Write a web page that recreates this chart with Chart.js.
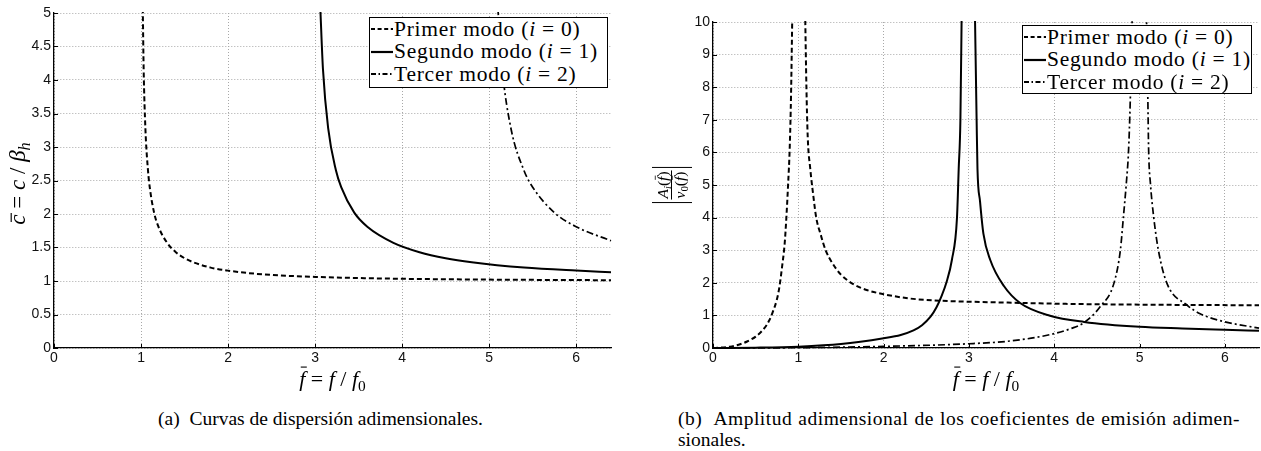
<!DOCTYPE html>
<html>
<head>
<meta charset="utf-8">
<script src="https://cdn.jsdelivr.net/npm/chart.js@4.4.1/dist/chart.umd.min.js"></script>
<style>
body { margin: 0; background: #fff; width: 1261px; height: 451px; position: relative; overflow: hidden; }
.panel { position: absolute; top: 0; }
.legend { position: absolute; background: #fff; border: 1.3px solid #000; box-sizing: border-box;
          font-family: "Liberation Serif", serif; font-size: 21.5px; letter-spacing: 0.75px; color: #000; padding: 0 1px; }
.legend .row { height: 22.5px; display: flex; align-items: center; white-space: nowrap; }
.legend svg { width: 22px; height: 10px; flex: none; margin-right: 1px; }
.caption { position: absolute; font-family: "Liberation Serif", serif; font-size: 19.5px; color: #000; white-space: nowrap; }
</style>
</head>
<body>
<div class="panel" style="left:0;width:625px;height:400px"><canvas id="dispChart" width="625" height="400"></canvas></div>
<div class="panel" style="left:630px;width:631px;height:400px"><canvas id="ampChart" width="631" height="400"></canvas></div>
<div class="legend" id="legendA" style="left:369px;top:17px;width:239px;height:71px"></div>
<div class="legend" id="legendB" style="left:1022px;top:25px;width:230px;height:69px"></div>
<div class="caption" style="left:158px;top:408px">(a)&nbsp; Curvas de dispersión adimensionales.</div>
<div class="caption" style="left:678px;top:408px;width:562px;letter-spacing:0.5px;text-align:justify;text-align-last:justify">(b)&nbsp; Amplitud adimensional de los coeficientes de emisión adimen-</div>
<div class="caption" style="left:678px;top:429px">sionales.</div>
<script>
// Series names and tick labels
const seriesNames = ['Primer modo', 'Segundo modo', 'Tercer modo'];
const modeIndex = [0, 1, 2];
const fTicks = [0, 1, 2, 3, 4, 5, 6];
const cTicks = [0, 0.5, 1, 1.5, 2, 2.5, 3, 3.5, 4, 4.5, 5];
const ampTicks = [0, 1, 2, 3, 4, 5, 6, 7, 8, 9, 10];

// (a) dispersion curves, c/beta_h vs f/f0
const dispPrimerF = [1.02, 1.03, 1.05, 1.08, 1.1, 1.15, 1.2, 1.3, 1.4, 1.5, 1.6, 1.8, 2.0, 2.3, 2.6, 3.0, 3.5, 4.0, 4.5, 5.0, 5.5, 6.0, 6.4];
const dispPrimerC = [5.07, 4.17, 3.28, 2.65, 2.40, 2.02, 1.81, 1.57, 1.43, 1.34, 1.28, 1.20, 1.155, 1.11, 1.083, 1.061, 1.044, 1.033, 1.026, 1.021, 1.017, 1.014, 1.012];
const dispSegundoF = [3.06, 3.09, 3.15, 3.24, 3.3, 3.45, 3.6, 3.9, 4.2, 4.5, 4.8, 5.4, 6.0, 6.4];
const dispSegundoC = [5.07, 4.17, 3.28, 2.65, 2.40, 2.02, 1.81, 1.57, 1.43, 1.34, 1.28, 1.20, 1.155, 1.132];
const dispTercerF = [5.1, 5.15, 5.25, 5.4, 5.5, 5.75, 6.0, 6.4];
const dispTercerC = [5.07, 4.17, 3.28, 2.65, 2.40, 2.02, 1.81, 1.60];

// (b) emission amplitude |A_i / v_0| vs f/f0 (null = break at resonance)
const ampPrimerF = [0, 0.2, 0.3, 0.4, 0.5, 0.6, 0.66, 0.7, 0.75, 0.78, 0.81, 0.84, 0.86, 0.88, 0.9, 0.915, 0.93, 1.0,
                    1.08, 1.095, 1.11, 1.14, 1.17, 1.21, 1.26, 1.32, 1.4, 1.5, 1.65, 1.8, 2.0, 2.3, 2.6, 3.0, 3.5, 4.0, 5.0, 6.4];
const ampPrimerA = [0, 0.04, 0.1, 0.2, 0.35, 0.6, 0.85, 1.1, 1.5, 1.9, 2.5, 3.2, 4.0, 5.0, 6.2, 7.8, 10.3, null,
                    10.3, 8.0, 6.5, 5.5, 4.8, 4.0, 3.5, 3.0, 2.6, 2.25, 1.95, 1.78, 1.65, 1.52, 1.46, 1.42, 1.39, 1.36, 1.33, 1.31];
const ampSegundoF = [0, 0.5, 1.0, 1.5, 2.0, 2.2, 2.35, 2.45, 2.55, 2.62, 2.68, 2.735, 2.8, 2.86, 2.88, 2.9, 2.915, 3.0,
                     3.07, 3.09, 3.1, 3.13, 3.17, 3.25, 3.41, 3.6, 3.95, 4.35, 5.0, 5.5, 6.0, 6.4];
const ampSegundoA = [0, 0.01, 0.04, 0.12, 0.3, 0.4, 0.54, 0.7, 0.96, 1.25, 1.6, 2.0, 2.7, 4.0, 5.5, 7.0, 10.3, null,
                     10.3, 7.0, 5.5, 4.5, 3.5, 2.7, 1.9, 1.38, 0.99, 0.8, 0.65, 0.6, 0.56, 0.53];
const ampTercerF = [0, 1, 2, 3, 3.5, 3.95, 4.2, 4.35, 4.54, 4.7, 4.775, 4.81, 4.845, 4.87, 4.89, 4.915, 5.0,
                    5.08, 5.095, 5.107, 5.127, 5.165, 5.22, 5.32, 5.56, 5.71, 5.99, 6.4];
const ampTercerA = [0, 0.01, 0.05, 0.13, 0.22, 0.41, 0.6, 0.78, 1.27, 1.99, 3.0, 4.0, 5.06, 6.0, 7.5, 10.3, null,
                    10.3, 8.0, 6.0, 5.06, 4.03, 3.01, 1.99, 1.31, 1.05, 0.81, 0.61];

const dashes = [[5, 3], [], [7, 3, 2, 3]];
const widths = [2, 2, 1.7];
const svgDash = ['4,2.6', 'none', '5,2.5,1.5,2.5'];

function toPoints(xs, ys) {
    return xs.map((x, i) => ({ x: x, y: ys[i] }));
}

function makeDatasets(list) {
    return list.map((pts, i) => ({
        label: seriesNames[i],
        data: pts,
        borderColor: '#000',
        borderWidth: widths[i],
        borderDash: dashes[i],
        pointRadius: 0,
        fill: false,
        spanGaps: false,
        cubicInterpolationMode: 'monotone',
        clip: 1
    }));
}

// draws a row of math pieces, {t, it, sub, bar}
function drawParts(ctx, parts, cx, base, size, family) {
    const fontOf = p => (p.it ? 'italic ' : '') + (p.sub ? size * 0.7 : size) + 'px ' + family;
    let total = 0;
    parts.forEach(p => { ctx.font = fontOf(p); p.w = ctx.measureText(p.t).width; total += p.w; });
    let x = cx - total / 2;
    ctx.textAlign = 'left';
    ctx.textBaseline = 'alphabetic';
    parts.forEach(p => {
        ctx.font = fontOf(p);
        const y = base + (p.sub ? size * 0.22 : 0);
        ctx.fillText(p.t, x, y);
        if (p.bar) {
            ctx.beginPath();
            ctx.lineWidth = size * 0.05;
            ctx.moveTo(x + p.w * 0.25, y - size * p.bar);
            ctx.lineTo(x + p.w * 0.95 + size * 0.08, y - size * p.bar);
            ctx.stroke();
        }
        x += p.w;
    });
    return total;
}

const serif = '"Liberation Serif", serif';
const xTitleParts = [
    { t: 'f', it: true, bar: 0.86 }, { t: ' = ' }, { t: 'f', it: true }, { t: ' / ' }, { t: 'f', it: true }, { t: '0', sub: true }
];

const innerTicks = {
    id: 'innerTicks',
    afterDatasetsDraw(chart) {
        const { ctx, chartArea: a, scales: { x, y } } = chart;
        ctx.save();
        ctx.strokeStyle = '#000';
        ctx.lineWidth = 1;
        ctx.beginPath();
        x.ticks.forEach(t => {
            const px = Math.round(x.getPixelForValue(t.value)) + 0.5;
            ctx.moveTo(px, a.bottom); ctx.lineTo(px, a.bottom - 4);
        });
        y.ticks.forEach(t => {
            const py = Math.round(y.getPixelForValue(t.value)) + 0.5;
            ctx.moveTo(a.left, py); ctx.lineTo(a.left + 4, py);
        });
        ctx.stroke();
        ctx.restore();
    }
};

const xTitle = {
    id: 'xTitle',
    afterDraw(chart) {
        const { ctx, chartArea: a } = chart;
        ctx.save();
        ctx.fillStyle = '#000'; ctx.strokeStyle = '#000';
        drawParts(ctx, xTitleParts.map(p => ({ ...p })), (a.left + a.right) / 2, a.bottom + 38, 22, serif);
        ctx.restore();
    }
};

function scalesFor(yMax, yTicks, yWidth) {
    const tickFont = { family: '"Liberation Sans", Arial, sans-serif', size: 14 };
    return {
        x: {
            type: 'linear', min: 0, max: 6.4,
            afterBuildTicks: s => { s.ticks = fTicks.map(v => ({ value: v })); },
            afterFit: s => { s.height = 52; },
            grid: { color: '#a8a8a8', lineWidth: 1, drawTicks: false },
            border: { display: true, color: '#000', width: 1.3, dash: [1, 2] },
            ticks: { color: '#111', font: tickFont, padding: 2, maxRotation: 0, callback: v => String(v) }
        },
        y: {
            type: 'linear', min: 0, max: yMax,
            afterBuildTicks: s => { s.ticks = yTicks.map(v => ({ value: v })); },
            afterFit: s => { s.width = yWidth; },
            grid: { color: '#a8a8a8', lineWidth: 1, drawTicks: false },
            border: { display: true, color: '#000', width: 1.3, dash: [1, 2] },
            ticks: { color: '#111', font: tickFont, padding: 3, callback: v => String(v) }
        }
    };
}

const baseOptions = (yMax, yTicks, yWidth, pad) => ({
    responsive: false,
    animation: false,
    layout: { padding: pad },
    scales: scalesFor(yMax, yTicks, yWidth),
    plugins: { legend: { display: false }, tooltip: { enabled: false } }
});

// (a)
const dispY = {
    id: 'dispY',
    afterDraw(chart) {
        const { ctx, chartArea: a } = chart;
        ctx.save();
        ctx.translate(a.left - 29, (a.top + a.bottom) / 2 + 3);
        ctx.rotate(-Math.PI / 2);
        ctx.fillStyle = '#000'; ctx.strokeStyle = '#000';
        drawParts(ctx, [
            { t: 'c', it: true, bar: 0.6 }, { t: ' = ' }, { t: 'c', it: true }, { t: ' / ' }, { t: 'β', it: true }, { t: 'h', it: true, sub: true }
        ], 0, 0, 23, serif);
        ctx.restore();
    }
};

new Chart(document.getElementById('dispChart'), {
    type: 'line',
    data: {
        datasets: makeDatasets([
            toPoints(dispPrimerF, dispPrimerC),
            toPoints(dispSegundoF, dispSegundoC),
            toPoints(dispTercerF, dispTercerC)
        ])
    },
    options: baseOptions(5, cTicks, 54, { top: 13, right: 14, left: 0, bottom: 0 }),
    plugins: [innerTicks, xTitle, dispY]
});

// (b)
const ampY = {
    id: 'ampY',
    afterDraw(chart) {
        const { ctx, chartArea: a } = chart;
        ctx.save();
        ctx.translate(a.left - 40, (a.top + a.bottom) / 2);
        ctx.rotate(-Math.PI / 2);
        ctx.fillStyle = '#000'; ctx.strokeStyle = '#000';
        const w1 = drawParts(ctx, [
            { t: 'A', it: true }, { t: 'i', it: true, sub: true }, { t: '(' }, { t: 'f', it: true, bar: 0.82 }, { t: ')' }
        ], 0, -5, 15.5, serif);
        const w2 = drawParts(ctx, [
            { t: 'v', it: true }, { t: '0', sub: true }, { t: '(' }, { t: 'f', it: true, bar: 0.82 }, { t: ')' }
        ], 0, 12, 15.5, serif);
        const w = Math.max(w1, w2) / 2 + 1;
        ctx.lineWidth = 1;
        ctx.beginPath();
        ctx.moveTo(-w, -1.5); ctx.lineTo(w, -1.5);
        ctx.moveTo(-w - 3, -21); ctx.lineTo(-w - 3, 19);
        ctx.moveTo(w + 3, -21); ctx.lineTo(w + 3, 19);
        ctx.stroke();
        ctx.restore();
    }
};

new Chart(document.getElementById('ampChart'), {
    type: 'line',
    data: {
        datasets: makeDatasets([
            toPoints(ampPrimerF, ampPrimerA),
            toPoints(ampSegundoF, ampSegundoA),
            toPoints(ampTercerF, ampTercerA)
        ])
    },
    options: baseOptions(10, ampTicks, 83, { top: 22, right: 2, left: 0, bottom: 0 }),
    plugins: [innerTicks, xTitle, ampY]
});

// legends
function buildLegend(id) {
    const box = document.getElementById(id);
    seriesNames.forEach((name, i) => {
        const row = document.createElement('div');
        row.className = 'row';
        row.innerHTML = '<svg viewBox="0 0 22 10"><line x1="0" y1="5" x2="22" y2="5" stroke="#000" stroke-width="' +
            (i === 1 ? 2.2 : 1.8) + '" stroke-dasharray="' + svgDash[i] + '"/></svg>' +
            '<span>' + name + ' (<i>i</i> = ' + modeIndex[i] + ')</span>';
        box.appendChild(row);
    });
}
buildLegend('legendA');
buildLegend('legendB');
</script>
</body>
</html>
